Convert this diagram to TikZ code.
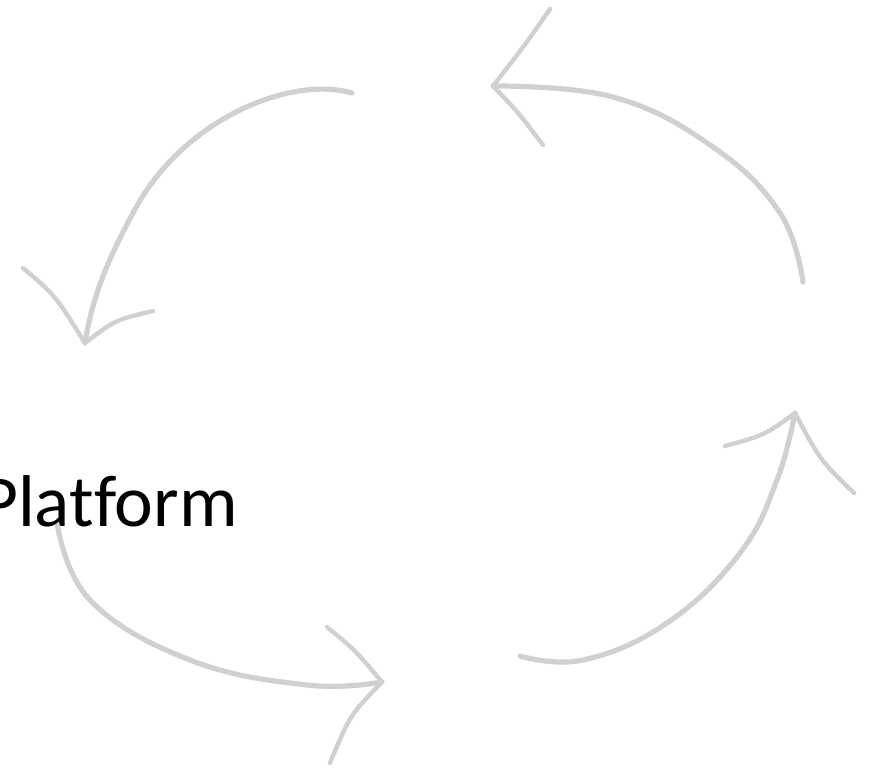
\documentclass[tikz,border=0pt]{standalone}
\usepackage{fontspec}
\setmainfont{Carlito}[Ligatures=NoCommon]
\definecolor{cyclegray}{RGB}{208,208,208}

\begin{document}
\begin{tikzpicture}[x=0.75pt, y=-0.75pt,
    shaft/.style={draw=cyclegray, line width=3.9pt, line cap=round, line join=round},
    barb/.style={draw=cyclegray, line width=3.3pt, line cap=round, line join=round},
    titletext/.style={font=\fontsize{55}{60}\selectfont, anchor=base west, inner sep=0pt}
  ]
    \useasboundingbox (0,0) rectangle (876,769);
    % Cycle arrows (tips as named coordinates)
    \coordinate (tipA) at (493,86);
    \coordinate (tipB) at (85,343);
    \coordinate (tipC) at (382,682);
    \coordinate (tipD) at (795,413);
    % Top right -> top
    \draw[shaft] plot[smooth, tension=0.7] coordinates {(803,282) (780,213) (713,147) (613,97) (tipA)};
    \draw[barb] (550,9) .. controls (525,45) .. (tipA) .. controls (518,112) .. (543,145);
    % Top left -> left
    \draw[shaft] (352,93) .. controls (290,75) and (180,120) .. (132,215) .. controls (105,265) and (92,300) .. (tipB);
    \draw[barb] (23,268) .. controls (55,295) .. (tipB) .. controls (115,320) .. (153,311);
    % Bottom left -> bottom
    \draw[shaft] plot[smooth, tension=0.7] coordinates {(57,523) (90,600) (190,660) (307,685) (tipC)};
    \draw[barb] (327,627) .. controls (355,650) .. (tipC) .. controls (350,715) .. (330,763);
    % Bottom right -> right
    \draw[shaft] plot[smooth, tension=0.7] coordinates {(520,656) (583,660) (667,623) (740,553) (777,480) (tipD)};
    \draw[barb] (725,446) .. controls (765,435) .. (tipD) .. controls (820,460) .. (854,493);
    % Label
    \node[titletext] (platform) at (-20,526) {Platform};
  \end{tikzpicture}
\end{document}
